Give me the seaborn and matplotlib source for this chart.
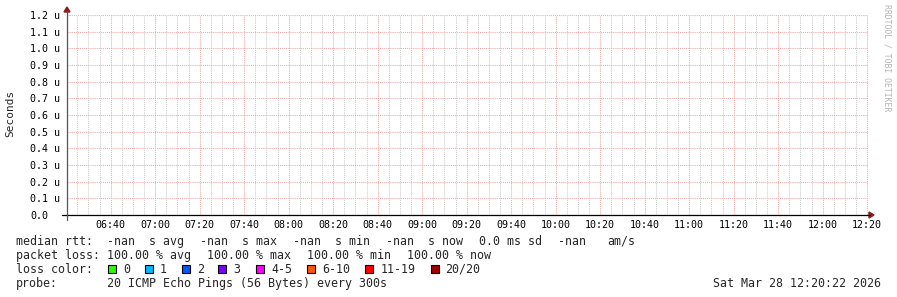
import numpy as np
import pandas as pd
import matplotlib
matplotlib.use("Agg")
import matplotlib.pyplot as plt
import matplotlib.dates as mdates
from matplotlib.ticker import FixedLocator
from matplotlib.patches import Rectangle, Polygon
from matplotlib.lines import Line2D
import seaborn as sns

# ---------------- data ----------------
times = pd.to_datetime(["2026-03-28 06:20:22", "2026-03-28 12:20:22"])
median_rtt = [np.nan, np.nan]          # all samples lost -> no values
y_ticks = [0.0, 0.1e-6, 0.2e-6, 0.3e-6, 0.4e-6, 0.5e-6, 0.6e-6,
           0.7e-6, 0.8e-6, 0.9e-6, 1.0e-6, 1.1e-6, 1.2e-6]
y_tick_labels = ["0.0", "0.1 u", "0.2 u", "0.3 u", "0.4 u", "0.5 u", "0.6 u",
                 "0.7 u", "0.8 u", "0.9 u", "1.0 u", "1.1 u", "1.2 u"]
y_label = "Seconds"
rtt_row = ["median rtt:", "-nan", "s avg", "-nan", "s max", "-nan", "s min",
           "-nan", "s now", "0.0 ms sd", "-nan", "am/s"]
loss_row = ["packet loss:", "100.00 % avg", "100.00 % max", "100.00 % min", "100.00 % now"]
loss_labels = ["0", "1", "2", "3", "4-5", "6-10", "11-19", "20/20"]
loss_colors = ["#26ff00", "#00b8ff", "#0059ff", "#7e00ff", "#ff00ff",
               "#ff5500", "#ff0000", "#a10000"]
probe_text = ["probe:", "20 ICMP Echo Pings (56 Bytes) every 300s"]
date_text = "Sat Mar 28 12:20:22 2026"
watermark = "RRDTOOL / TOBI OETIKER"

# ---------------- style ----------------
sns.set_theme(style="white")
plt.rcParams["font.family"] = ["DejaVu Sans Mono", "DejaVu Sans"]

W, H = 897, 297
fig = plt.figure(figsize=(W / 100, H / 100), dpi=100, facecolor="white")

def fx(x):
    return x / W

def fy(y):
    return 1 - y / H

L, R, T, B = 67, 868, 15, 215
ax = fig.add_axes([fx(L), fy(B), (R - L) / W, (B - T) / H])
ax.set_facecolor("white")

df = pd.DataFrame({"time": times, "rtt": median_rtt})
sns.lineplot(data=df, x="time", y="rtt", ax=ax, color="#00aa00")

ax.set_xlim(times[0], times[-1])
ax.set_ylim(0, 1.2e-6)

ax.xaxis.set_major_locator(mdates.MinuteLocator(byminute=[0, 20, 40]))
ax.xaxis.set_minor_locator(mdates.MinuteLocator(byminute=range(0, 60, 5)))
ax.xaxis.set_major_formatter(mdates.DateFormatter("%H:%M"))
ax.yaxis.set_major_locator(FixedLocator(y_ticks))
ax.set_yticklabels(y_tick_labels)

ax.set_xlabel("")
ax.set_ylabel("")
for s in ax.spines.values():
    s.set_visible(False)

ax.grid(False)
ax.grid(which="minor", axis="x", color="#cccccc", linestyle=(0, (1, 1)), linewidth=0.75)
ax.grid(which="major", axis="x", color="#f0a8a8", linestyle=(0, (1, 1)), linewidth=0.75)
ax.grid(which="major", axis="y", color="#f0a8a8", linestyle=(0, (1, 1)), linewidth=0.75)

ax.tick_params(axis="x", which="both", length=0, pad=3.5, labelsize=7.2, labelcolor="#000000")
ax.tick_params(axis="y", which="both", length=0, pad=26.6, labelsize=7.2, labelcolor="#000000")
for lab in ax.get_yticklabels():
    lab.set_ha("left")

# axes lines and arrows
fig.add_artist(Line2D([fx(62), fx(870)], [fy(B), fy(B)], color="#000000", lw=0.9))
fig.add_artist(Line2D([fx(L), fx(L)], [fy(220), fy(11)], color="#555555", lw=0.9))
fig.add_artist(Polygon([[fx(869), fy(212)], [fx(869), fy(218)], [fx(874), fy(B)]],
                       closed=True, color="#8b1a1a"))
fig.add_artist(Polygon([[fx(64), fy(12)], [fx(70), fy(12)], [fx(L), fy(7)]],
                       closed=True, color="#8b1a1a"))

# y label & watermark
fig.text(fx(10), fy(113), y_label, rotation=90, ha="center", va="center", fontsize=8)
fig.text(fx(887), fy(4), watermark, rotation=270, ha="center", va="top",
         fontsize=5.9, color="#b4b4b4")

# legend rows
FS = 8.4
rtt_x = [16, 107, 149, 200, 242, 293, 335, 386, 428, 479, 558, 607]
for txt, x in zip(rtt_row, rtt_x):
    fig.text(fx(x), fy(245), txt, fontsize=FS, va="baseline", ha="left")

loss_x = [16, 107, 207, 307, 407]
for txt, x in zip(loss_row, loss_x):
    fig.text(fx(x), fy(259), txt, fontsize=FS, va="baseline", ha="left")

fig.text(fx(16), fy(273), "loss color:", fontsize=FS, va="baseline", ha="left")
sq_x = [108, 145, 182, 218, 256, 307, 365, 431]
lab_x = [123, 160, 197, 233, 271, 322, 381, 445]
for lab, col, sx, lx in zip(loss_labels, loss_colors, sq_x, lab_x):
    fig.add_artist(Rectangle((fx(sx), fy(273)), 8 / W, 8 / H, facecolor=col,
                             edgecolor="#000000", lw=0.8))
    fig.text(fx(lx), fy(273), lab, fontsize=FS, va="baseline", ha="left")

fig.text(fx(16), fy(287), probe_text[0], fontsize=FS, va="baseline", ha="left")
fig.text(fx(107), fy(287), probe_text[1], fontsize=FS, va="baseline", ha="left")
fig.text(fx(881), fy(287), date_text, fontsize=FS, va="baseline", ha="right")

fig.savefig("out.png", dpi=100, facecolor="white")
